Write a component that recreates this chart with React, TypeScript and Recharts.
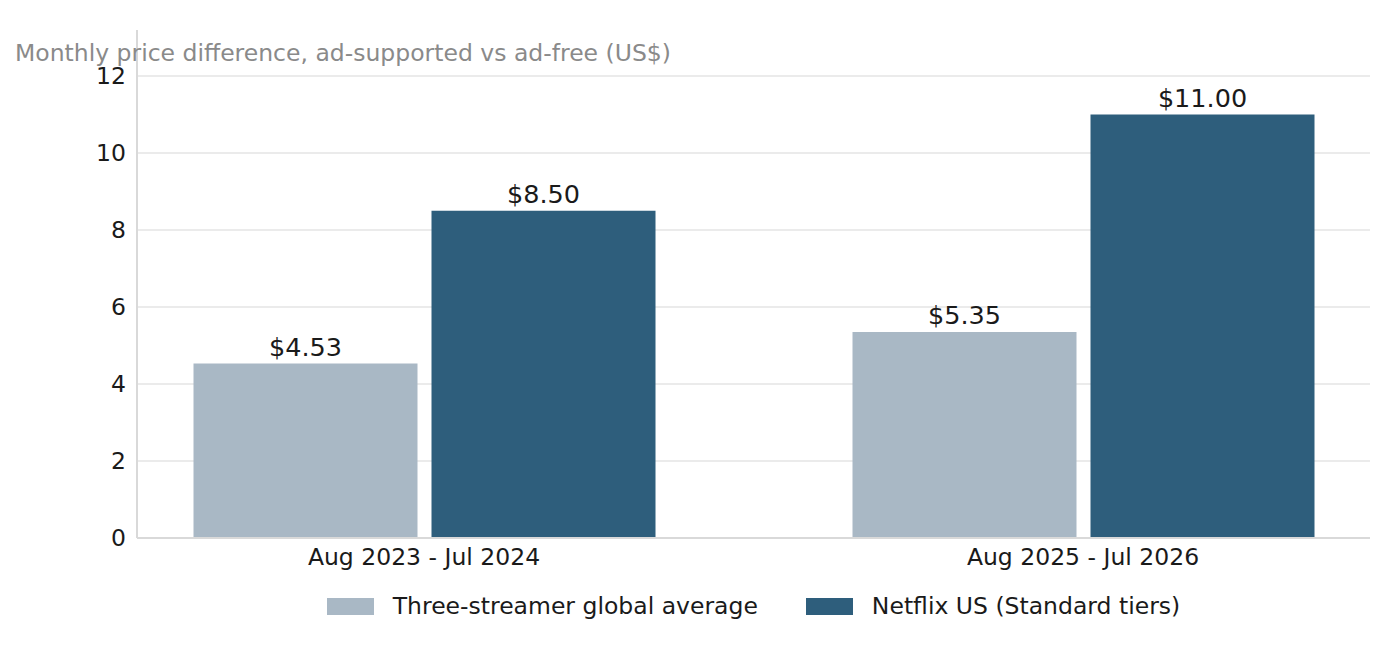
import React from 'react';
import { BarChart, Bar, XAxis, YAxis, CartesianGrid, Legend, LabelList } from 'recharts';

const categories = ['Aug 2023 - Jul 2024', 'Aug 2025 - Jul 2026'];
const threeStreamerAvg = [4.53, 5.35];
const netflixUS = [8.5, 11.0];
const yTicks = [0, 2, 4, 6, 8, 10, 12];
const seriesNames = ['Three-streamer global average', 'Netflix US (Standard tiers)'];
const seriesColors = ['#a9b8c5', '#2e5e7c'];
const titleText = 'Monthly price difference, ad-supported vs ad-free (US$)';

const data = categories.map((c, i) => ({
  category: c,
  avg: threeStreamerAvg[i],
  netflix: netflixUS[i],
}));

const FONT = '"DejaVu Sans", sans-serif';

const LegendContent = () => (
  <div
    style={{
      display: 'flex',
      justifyContent: 'center',
      alignItems: 'center',
      height: 30,
      fontFamily: FONT,
      fontSize: 23.5,
      color: '#1a1a1a',
    }}
  >
    {seriesNames.map((n, i) => (
      <div key={n} style={{ display: 'flex', alignItems: 'center', marginRight: i === 0 ? 48 : 0 }}>
        <div style={{ width: 47, height: 17, background: seriesColors[i], marginRight: 19 }} />
        <span style={{ whiteSpace: 'nowrap' }}>{n}</span>
      </div>
    ))}
  </div>
);

export default function App() {
  return (
    <div style={{ position: 'relative', width: 1384, height: 652, fontFamily: FONT }}>
      <BarChart
        width={1384}
        height={652}
        data={data}
        margin={{ top: 22, right: 22, bottom: 82, left: 0 }}
        barSize={224}
        barGap={14}
      >
        <CartesianGrid vertical={false} horizontalValues={yTicks} stroke="#ebebeb" strokeWidth={2} />
        <XAxis
          dataKey="category"
          padding={{ left: -42.5, right: -42.5 }}
          height={40}
          tickLine={false}
          tickSize={0}
          tickMargin={10}
          axisLine={{ stroke: '#d9d9d9', strokeWidth: 2 }}
          tick={{ fill: '#1a1a1a', fontSize: 23.5, fontFamily: FONT }}
        />
        <YAxis
          domain={[0, 13.195]}
          ticks={yTicks}
          width={129}
          tickLine={false}
          tickSize={0}
          tickMargin={11}
          allowDataOverflow
          axisLine={{ stroke: '#d9d9d9', strokeWidth: 2 }}
          tick={{ fill: '#1a1a1a', fontSize: 23.5, fontFamily: FONT }}
        />
        <Legend
          layout="horizontal"
          verticalAlign="middle"
          align="center"
          wrapperStyle={{ top: 583, left: 129, width: 1233 }}
          content={<LegendContent />}
        />
        <Bar dataKey="avg" name={seriesNames[0]} fill={seriesColors[0]} isAnimationActive={false}>
          <LabelList
            dataKey="avg"
            position="top"
            offset={8}
            formatter={(v: number) => `$${Number(v).toFixed(2)}`}
            style={{ fill: '#1a1a1a', fontSize: 25.5, fontFamily: FONT }}
          />
        </Bar>
        <Bar dataKey="netflix" name={seriesNames[1]} fill={seriesColors[1]} isAnimationActive={false}>
          <LabelList
            dataKey="netflix"
            position="top"
            offset={8}
            formatter={(v: number) => `$${Number(v).toFixed(2)}`}
            style={{ fill: '#1a1a1a', fontSize: 25.5, fontFamily: FONT }}
          />
        </Bar>
      </BarChart>
      <div
        style={{
          position: 'absolute',
          left: 7,
          top: 32.4,
          fontSize: 23.5,
          lineHeight: '27px',
          color: '#8a8a8a',
          whiteSpace: 'nowrap',
          fontFamily: FONT,
        }}
      >
        {titleText}
      </div>
    </div>
  );
}
